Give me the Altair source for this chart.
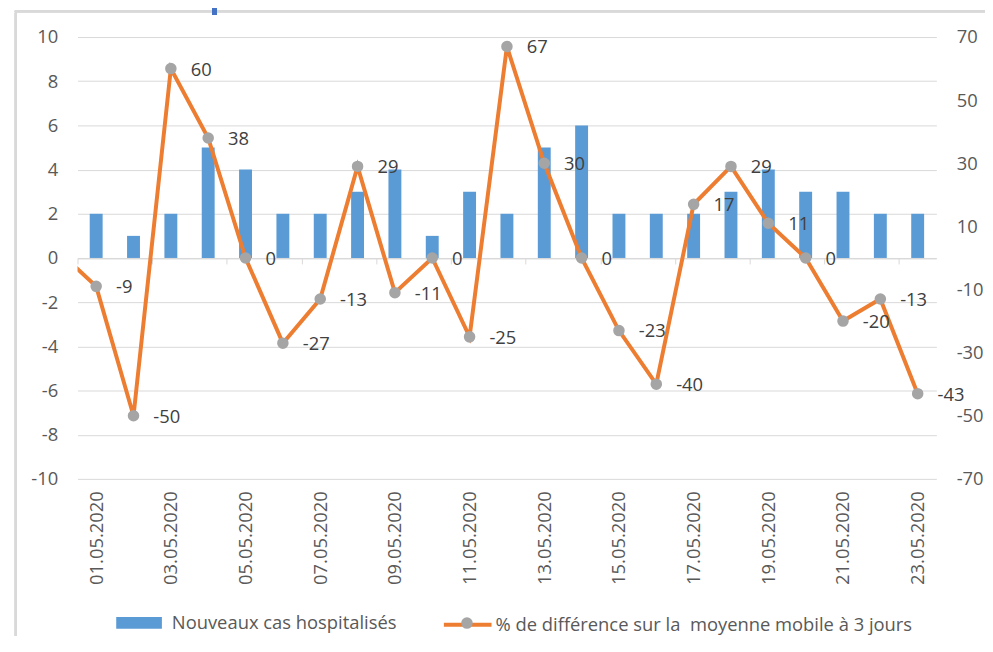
import json
import altair as alt
import pandas as pd

# ---------------- data ----------------
dates = ["01.05.2020", "02.05.2020", "03.05.2020", "04.05.2020", "05.05.2020",
         "06.05.2020", "07.05.2020", "08.05.2020", "09.05.2020", "10.05.2020",
         "11.05.2020", "12.05.2020", "13.05.2020", "14.05.2020", "15.05.2020",
         "16.05.2020", "17.05.2020", "18.05.2020", "19.05.2020", "20.05.2020",
         "21.05.2020", "22.05.2020", "23.05.2020"]
cas = [2, 1, 2, 5, 4, 2, 2, 3, 4, 1, 3, 2, 5, 6, 2, 2, 2, 3, 4, 3, 3, 2, 2]
pct = [-9, -50, 60, 38, 0, -27, -13, 29, -11, 0, -25, 67, 30, 0, -23, -40,
       17, 29, 11, 0, -20, -13, -43]
pct_prev = 2  # 30.04.2020 value (only the clipped segment is visible)

S_BAR = "Nouveaux cas hospitalisés"
S_LINE = "% de différence sur la\u00a0 moyenne mobile à 3 jours"

day = list(range(1, len(dates) + 1))
df = pd.DataFrame({"day": day, "date": dates, "cas": cas, "pct": pct})
df_line = pd.DataFrame({"day": [0] + day, "pct": [pct_prev] + pct})

BLUE = "#5B9BD5"
ORANGE = "#ED7D31"
GRAY = "#A5A5A5"
GRID = "#d9d9d9"
TXT = "#595959"
FONT = "Open Sans"
FS = 18.5

W, H = 865, 445

xscale = alt.Scale(domain=[0.5, len(dates) + 0.5], nice=False, zero=False, padding=0)

axis_zero = alt.Axis(orient="bottom", offset=-H / 2, labels=False, grid=False,
                     domain=True, domainColor=GRID, domainWidth=1,
                     ticks=True, tickColor=GRID, tickSize=6, tickWidth=1,
                     values=[d - 0.5 for d in day[::2]], title=None)

axis_lab = alt.Axis(orient="bottom", values=day[::2],
                    labelExpr=f"{json.dumps(dates)}[datum.value - 1]",
                    labelAngle=-90, ticks=False, domain=False, grid=False,
                    labelPadding=12, labelOverlap=False, labelFlush=False,
                    title=None, labelFont=FONT, labelFontSize=FS, labelColor=TXT)

x_zero = alt.X("day:Q", scale=xscale, axis=axis_zero)
x_lab = alt.X("day:Q", scale=xscale, axis=axis_lab)

yl = alt.Y("cas:Q", scale=alt.Scale(domain=[-10, 10], nice=False),
           axis=alt.Axis(values=list(range(-10, 11, 2)), grid=True, gridColor=GRID,
                         domain=False, ticks=False, tickSize=0, labelPadding=20,
                         labelExpr="'' + datum.value",
                         title=None, labelFont=FONT, labelFontSize=FS, labelColor=TXT))
yr_scale = alt.Scale(domain=[-70, 70], nice=False)
yr_axis = alt.Axis(orient="right", values=list(range(-70, 71, 20)), grid=False,
                   domain=False, ticks=False, tickSize=0, labelPadding=20, title=None,
                   labelExpr="'' + datum.value",
                   labelFont=FONT, labelFontSize=FS, labelColor=TXT)
yr = alt.Y("pct:Q", scale=yr_scale, axis=yr_axis)

bars = alt.Chart(df).transform_calculate(s=json.dumps(S_BAR)).mark_bar(size=13).encode(
    x=x_zero, y=yl,
    color=alt.Color("s:N", scale=alt.Scale(domain=[S_BAR], range=[BLUE]),
                    legend=alt.Legend(orient="none", legendX=39, legendY=567, title=None,
                                      symbolType="M-1,-0.26H1V0.26H-1Z", symbolSize=2116,
                                      symbolStrokeWidth=0, labelOffset=10, padding=0,
                                      labelLimit=0,
                                      labelFont=FONT, labelFontSize=FS, labelColor=TXT)),
)

line = alt.Chart(df_line).transform_calculate(s=json.dumps(S_LINE)).mark_line(
    strokeWidth=4, clip=True).encode(
    x=x_lab, y=yr,
    stroke=alt.Stroke("s:N", scale=alt.Scale(domain=[S_LINE], range=[ORANGE]),
                      legend=alt.Legend(orient="none", legendX=367, legendY=566, title=None,
                                        symbolType="stroke", symbolSize=2304,
                                        symbolStrokeWidth=4, labelOffset=2, padding=0,
                                        labelLimit=0,
                                        labelFont=FONT, labelFontSize=FS, labelColor=TXT)),
)

points = alt.Chart(df).transform_calculate(p="'pt'").mark_circle(size=135, opacity=1).encode(
    x=x_lab, y=yr,
    fill=alt.Fill("p:N", scale=alt.Scale(domain=["pt"], range=[GRAY]),
                  legend=alt.Legend(orient="none", legendX=383, legendY=581, title=None,
                                    symbolType="circle", symbolSize=135, symbolStrokeWidth=0,
                                    labelOpacity=0, padding=0, labelFontSize=FS)),
)

labels = alt.Chart(df).transform_calculate(lbl="'' + datum.pct").mark_text(
    align="left", baseline="middle", dx=20, dy=1,
    fontSize=FS, font=FONT, color="#404040").encode(
    x=x_lab, y=yr, text="lbl:N",
)

frame = alt.Chart(df).mark_rect(fill="transparent", stroke=GRID, strokeWidth=2).encode(
    x=alt.value(-62), x2=alt.value(1000), y=alt.value(-26), y2=alt.value(700))

blue_tick = alt.Chart(df).mark_rule(color="#4472C4", strokeWidth=5).encode(
    x=alt.value(138), y=alt.value(-30), y2=alt.value(-23))

right = alt.layer(line, points, labels)

chart = alt.layer(frame, blue_tick, bars, right).resolve_scale(
    y="independent").resolve_axis(x="independent", y="independent").properties(
    width=W, height=H,
    autosize=alt.AutoSizeParams(type="none"),
    padding={"left": 70, "top": 27, "right": 49, "bottom": 156},
).configure_view(stroke=None)

chart.save("out.html", embed_options={"renderer": "svg", "actions": False})
